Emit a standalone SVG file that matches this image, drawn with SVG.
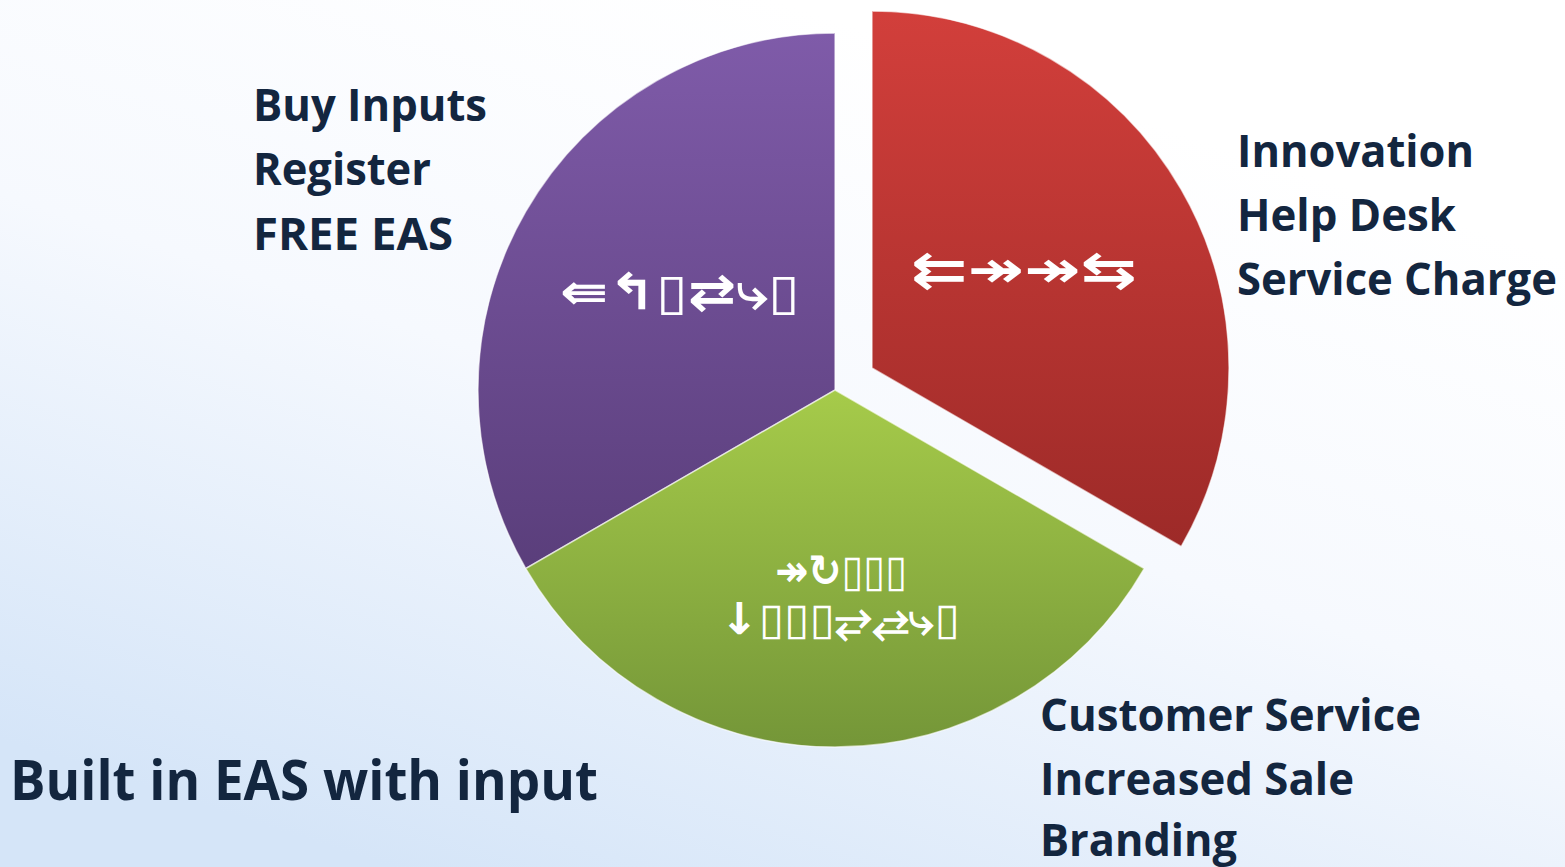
<svg xmlns="http://www.w3.org/2000/svg" width="1565" height="867" viewBox="0 0 1565 867">
<defs>
<linearGradient id="bg" x1="0.75" y1="0.15" x2="0.25" y2="1">
<stop offset="0" stop-color="#ffffff"/>
<stop offset="0.45" stop-color="#f6f9fe"/>
<stop offset="1" stop-color="#d5e5f8"/>
</linearGradient>
<linearGradient id="gPurple" x1="0" y1="0" x2="0" y2="1">
<stop offset="0" stop-color="#7f5ba9"/>
<stop offset="1" stop-color="#5a3e7b"/>
</linearGradient>
<linearGradient id="gRed" x1="0" y1="0" x2="0" y2="1">
<stop offset="0" stop-color="#d23f3b"/>
<stop offset="1" stop-color="#9d2a28"/>
</linearGradient>
<linearGradient id="gGreen" x1="0" y1="0" x2="0" y2="1">
<stop offset="0" stop-color="#a6cb4a"/>
<stop offset="1" stop-color="#749638"/>
</linearGradient>
</defs>
<style>
.lbl{font-family:"Open Sans","Liberation Sans",sans-serif;font-weight:bold;fill:#13263f;font-size:44px}
.big{font-size:56px}
.sym{font-family:"DejaVu Sans",sans-serif;font-weight:bold;fill:#ffffff;font-size:50px}
.sm{font-size:44px}
.slice{stroke:#ffffff;stroke-opacity:0.6;stroke-width:1.5}
</style>
<rect width="1565" height="867" fill="url(#bg)"/>
<g id="slice-purple">
<path class="slice" d="M835,390 L525.8,568.5 A357,357 0 0 1 835,33 Z" fill="url(#gPurple)"/>
<text class="sym" x="560" y="309" textLength="240" lengthAdjust="spacingAndGlyphs">⇚↰▯⇄⤷▯</text>
</g>
<g id="slice-green">
<path class="slice" d="M835,390 L1144.2,568.5 A357,357 0 0 1 525.8,568.5 Z" fill="url(#gGreen)"/>
<text class="sym sm" x="775" y="586" textLength="132" lengthAdjust="spacingAndGlyphs">↠↻▯▯▯</text>
<text class="sym sm" x="720" y="634" textLength="240" lengthAdjust="spacingAndGlyphs">↓▯▯▯⥂⥄⤷▯</text>
</g>
<g id="slice-red">
<path class="slice" d="M872,368 L872,11 A357,357 0 0 1 1181.2,546.5 Z" fill="url(#gRed)"/>
<text class="sym" x="911" y="287" textLength="226" lengthAdjust="spacingAndGlyphs">⇇↠↠⇆</text>
</g>
<g id="label-purple">
<text class="lbl" x="253" y="121" textLength="234" lengthAdjust="spacingAndGlyphs">Buy Inputs</text>
<text class="lbl" x="253" y="185" textLength="178" lengthAdjust="spacingAndGlyphs">Register</text>
<text class="lbl" x="253" y="250" textLength="200" lengthAdjust="spacingAndGlyphs">FREE EAS</text>
</g>
<g id="label-red">
<text class="lbl" x="1237" y="167" textLength="237" lengthAdjust="spacingAndGlyphs">Innovation</text>
<text class="lbl" x="1237" y="231" textLength="219" lengthAdjust="spacingAndGlyphs">Help Desk</text>
<text class="lbl" x="1237" y="295" textLength="320" lengthAdjust="spacingAndGlyphs">Service Charge</text>
</g>
<g id="label-green">
<text class="lbl" x="1040" y="731" textLength="381" lengthAdjust="spacingAndGlyphs">Customer Service</text>
<text class="lbl" x="1040" y="795" textLength="314" lengthAdjust="spacingAndGlyphs">Increased Sale</text>
<text class="lbl" x="1040" y="856" textLength="197" lengthAdjust="spacingAndGlyphs">Branding</text>
</g>
<g id="title">
<text class="lbl big" x="10" y="800" textLength="588" lengthAdjust="spacingAndGlyphs">Built in EAS with input</text>
</g>
<g id="connectors"></g>
</svg>
